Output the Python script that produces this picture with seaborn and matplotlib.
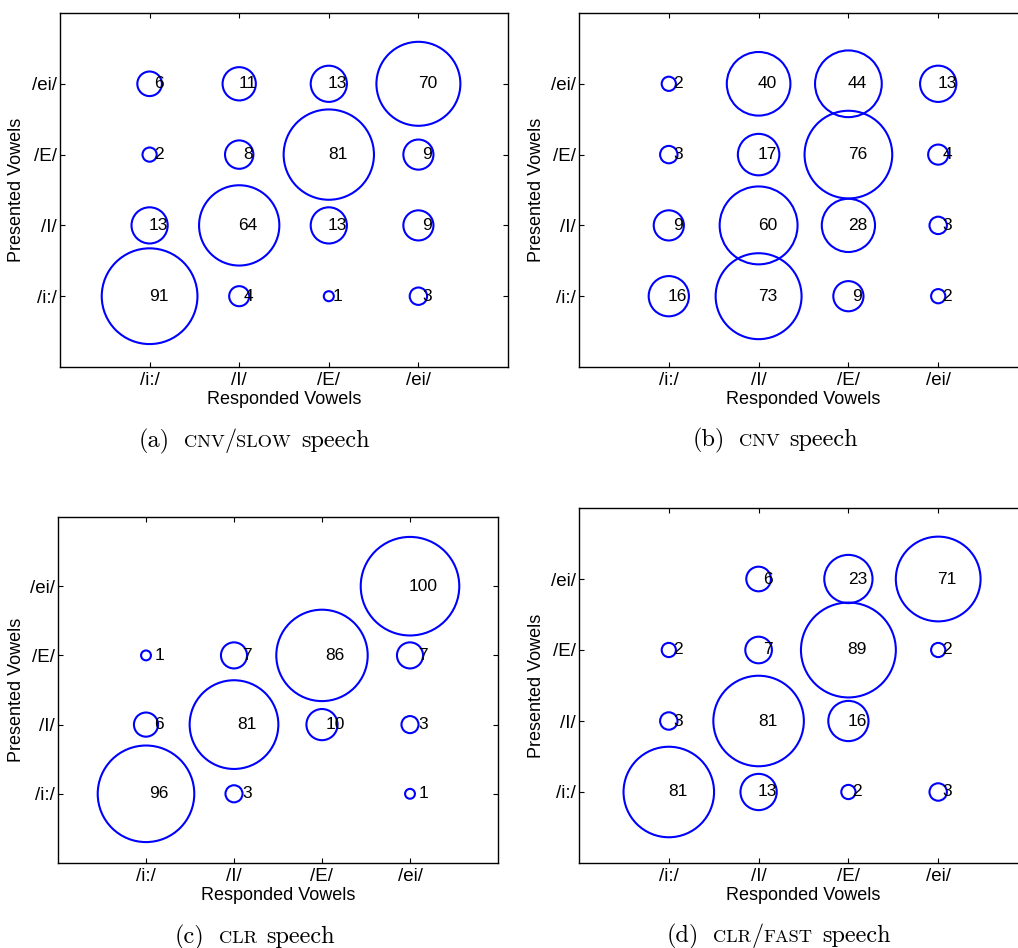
import numpy as np
import pandas as pd
import matplotlib
matplotlib.use("Agg")
import matplotlib.pyplot as plt
import seaborn as sns
from matplotlib.offsetbox import TextArea, HPacker, DrawingArea, AnnotationBbox

# Vowel categories (shared by both axes)
vowels = ["/i:/", "/I/", "/E/", "/ei/"]

# Confusion percentages: rows = presented vowel (/i:/, /I/, /E/, /ei/),
# columns = responded vowel (/i:/, /I/, /E/, /ei/); 0 = no responses
cnv_slow = [
    [91, 4, 1, 3],
    [13, 64, 13, 9],
    [2, 8, 81, 9],
    [6, 11, 13, 70],
]
cnv = [
    [16, 73, 9, 2],
    [9, 60, 28, 3],
    [3, 17, 76, 4],
    [2, 40, 44, 13],
]
clr = [
    [96, 3, 0, 1],
    [6, 81, 10, 3],
    [1, 7, 86, 7],
    [0, 0, 0, 100],
]
clr_fast = [
    [81, 13, 2, 3],
    [3, 81, 16, 0],
    [2, 7, 89, 2],
    [0, 6, 23, 71],
]

# Sub-figure captions: tag, small-caps condition name, trailing word
captions = [
    ("(a)", "cnv/slow", "speech"),
    ("(b)", "cnv", "speech"),
    ("(c)", "clr", "speech"),
    ("(d)", "clr/fast", "speech"),
]

W, H, DPI = 1018, 948, 100

sns.set_theme(style="white")
plt.rcParams["font.family"] = ["Liberation Sans", "DejaVu Sans"]
plt.rcParams["axes.edgecolor"] = "black"
plt.rcParams["axes.linewidth"] = 1.0
plt.rcParams["text.color"] = "black"
plt.rcParams["axes.labelcolor"] = "black"
plt.rcParams["xtick.color"] = "black"
plt.rcParams["ytick.color"] = "black"

fig = plt.figure(figsize=(W / DPI, H / DPI), dpi=DPI)
fig.patch.set_facecolor("white")

# axes rectangles in pixels: left, top, right, bottom
rects = [
    (60, 13, 508, 367),
    (579, 13, 1028, 367),
    (58, 517, 498, 863),
    (579, 508, 1028, 863),
]
text_dx = [0.1, 0.1, 0.15, 0.1]
caption_xy = [(254, 441), (775, 440), (255, 937), (779, 936)]
ylabel_x = [-0.078, -0.076, -0.075, -0.076]

for k, matrix in enumerate([cnv_slow, cnv, clr, clr_fast]):
    l, t, r, b = rects[k]
    ax = fig.add_axes([l / W, (H - b) / H, (r - l) / W, (b - t) / H])
    ax.set_facecolor("white")

    records = []
    for i, row in enumerate(matrix):
        for j, v in enumerate(row):
            if v > 0:
                records.append((j + 1, i + 1, v))
    df = pd.DataFrame(records, columns=["responded", "presented", "percent"])

    # marker area proportional to percentage; diameter of a 100 % circle
    spacing_px = (r - l) / 5.0
    d100 = 2 * 0.056 * 10 * spacing_px * 72.0 / DPI
    sns.scatterplot(
        data=df, x="responded", y="presented", size="percent",
        sizes=(0, d100 ** 2), size_norm=(0, 100),
        facecolor="none", edgecolor="#0000ff", linewidth=1.5,
        legend=False, ax=ax, zorder=2,
    )
    for x, y, v in df.itertuples(index=False):
        ax.text(x + text_dx[k], y, f"{v}", ha="center", va="center",
                fontsize=12.5, color="black", zorder=3)

    ax.set_xlim(0, 5)
    ax.set_ylim(0, 5)
    ax.set_xticks(range(1, 5))
    ax.set_xticklabels(vowels)
    ax.set_yticks(range(1, 5))
    ax.set_yticklabels(vowels)
    ax.tick_params(direction="in", length=3.5, width=0.8,
                   bottom=True, left=True, top=True, right=True,
                   labelsize=13.5, colors="black")
    ax.tick_params(axis="x", pad=3.5)
    ax.tick_params(axis="y", pad=2.0)
    for sp in ax.spines.values():
        sp.set_visible(True)
        sp.set_color("black")
        sp.set_linewidth(1.0)
    ax.set_xlabel("Responded Vowels", fontsize=13, color="black")
    ax.set_ylabel("Presented Vowels", fontsize=13, color="black")
    ax.xaxis.set_label_coords(0.5, -0.068)
    ax.xaxis.label.set_va("top")
    ax.yaxis.set_label_coords(ylabel_x[k], 0.5)

    # caption with small capitals for the condition name
    tag, cond, word = captions[k]
    big = dict(fontfamily="cmr10", fontsize=17.5, color="black")
    small = dict(fontfamily="cmr10", fontsize=13.2, color="black")
    parts = [TextArea(tag, textprops=big), DrawingArea(10, 1)]
    buf = ""
    for ch in cond:
        if ch == "/":
            if buf:
                parts.append(TextArea(buf.upper(), textprops=small))
                buf = ""
            parts.append(TextArea("/", textprops=big))
        else:
            buf += ch
    if buf:
        parts.append(TextArea(buf.upper(), textprops=small))
    parts += [DrawingArea(7, 1), TextArea(word, textprops=big)]
    pack = HPacker(children=parts, align="baseline", pad=0, sep=0)
    cx, cy = caption_xy[k]
    ab = AnnotationBbox(pack, (cx, H - cy), xycoords="figure pixels",
                        box_alignment=(0.5, 0.5), frameon=False, pad=0)
    fig.add_artist(ab)

fig.savefig("out.png", dpi=DPI, facecolor="white")
